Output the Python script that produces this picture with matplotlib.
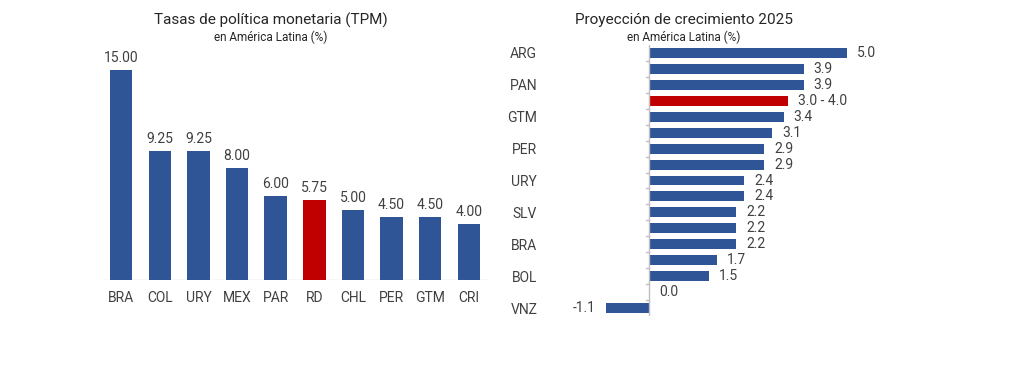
import matplotlib.pyplot as plt
import numpy as np

plt.rcParams['font.family'] = ['Roboto', 'DejaVu Sans']

# Tasas de politica monetaria
tpm_paises = ["BRA", "COL", "URY", "MEX", "PAR", "RD", "CHL", "PER", "GTM", "CRI"]
tpm_valores = [15.00, 9.25, 9.25, 8.00, 6.00, 5.75, 5.00, 4.50, 4.50, 4.00]

# Proyeccion de crecimiento 2025 (solo se ven las etiquetas alternas)
crec_etiquetas = ["ARG", "", "PAN", "", "GTM", "", "PER", "", "URY", "",
                  "SLV", "", "BRA", "", "BOL", "", "VNZ"]
crec_valores = [5.0, 3.9, 3.9, 3.5, 3.4, 3.1, 2.9, 2.9, 2.4, 2.4,
                2.2, 2.2, 2.2, 1.7, 1.5, 0.0, -1.1]
crec_textos = ["5.0", "3.9", "3.9", "3.0 - 4.0", "3.4", "3.1", "2.9", "2.9", "2.4", "2.4",
               "2.2", "2.2", "2.2", "1.7", "1.5", "0.0", "-1.1"]
crec_resaltado = 3

azul = "#2F5597"
rojo = "#C00000"
texto = "#404040"

fig = plt.figure(figsize=(10.24, 3.72), dpi=100)

# --- grafico izquierdo ---
ax1 = fig.add_axes([103/1024, 92/372, 384/1024, 231/372])
x = np.arange(len(tpm_paises))
colores = [rojo if p == "RD" else azul for p in tpm_paises]
ax1.bar(x, tpm_valores, width=0.58, color=colores, zorder=2)
for xi, v in zip(x, tpm_valores):
    ax1.text(xi, v + 0.35, '{:.2f}'.format(v), ha='center', va='bottom',
             fontsize=10, color=texto)
ax1.set_xlim(-0.47, len(tpm_paises) - 0.53)
ax1.set_ylim(0, 16.5)
ax1.axhline(0, color='#d9d9d9', lw=1, zorder=1)
ax1.set_xticks(x)
ax1.set_xticklabels(tpm_paises, fontsize=10, color=texto)
ax1.tick_params(axis='x', length=0, pad=8)
ax1.set_yticks([])
for s in ax1.spines.values():
    s.set_visible(False)
fig.text(271/1024, 1 - 20/372, "Tasas de política monetaria (TPM)", ha='center', va='center',
         fontsize=11, color='#262626')
fig.text(271/1024, 1 - 37/372, "en América Latina (%)", ha='center', va='center',
         fontsize=8.5, color='#262626')

# --- grafico derecho ---
ax2 = fig.add_axes([590/1024, 56/372, 277/1024, 271/372])
y = np.arange(len(crec_valores))
colores2 = [rojo if i == crec_resaltado else azul for i in y]
ax2.barh(y, crec_valores, height=0.62, color=colores2, zorder=2)
for yi, v, t in zip(y, crec_valores, crec_textos):
    if v < 0:
        ax2.text(v - 0.25, yi, t, ha='right', va='center', fontsize=10, color=texto)
    else:
        ax2.text(v + 0.25, yi, t, ha='left', va='center', fontsize=10, color=texto)
ax2.set_xlim(-1.5, 5.5)
ax2.set_ylim(len(crec_valores) - 0.5, -0.5)
ax2.axvline(0, color='#bfbfbf', lw=1, zorder=3)
ax2.set_yticks(y)
ax2.set_yticklabels(crec_etiquetas, fontsize=10, color=texto)
ax2.tick_params(axis='y', length=0, pad=38)
for yb in np.arange(0.5, len(crec_valores) - 1, 1):
    ax2.plot([-0.08, 0], [yb, yb], color='#bfbfbf', lw=1, zorder=3)
ax2.set_xticks([])
for s in ax2.spines.values():
    s.set_visible(False)
fig.text(684/1024, 1 - 20/372, "Proyección de crecimiento 2025", ha='center', va='center',
         fontsize=11, color='#262626')
fig.text(684/1024, 1 - 37/372, "en América Latina (%)", ha='center', va='center',
         fontsize=8.5, color='#262626')

fig.savefig('out.png', dpi=100, facecolor='white')
